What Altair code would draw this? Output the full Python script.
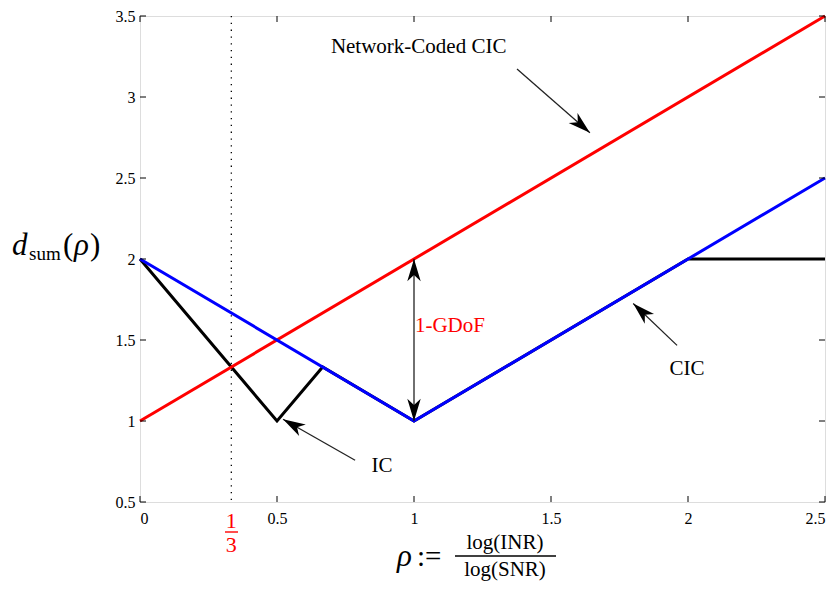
import math
import altair as alt
import pandas as pd

W, H = 685, 486
XMIN, XMAX = 0.0, 2.5
YMIN, YMAX = 0.5, 3.5
FONT = "Liberation Serif"

# ---- data ----
red_x = [0, 2.5]
red_y = [1, 3.5]
blue_x = [0, 1, 2.5]
blue_y = [2, 1, 2.5]
black_x = [0, 0.5, 2 / 3, 1, 2, 2.5]
black_y = [2, 1, 4 / 3, 1, 2, 2]
x_ticks = [0, 0.5, 1, 1.5, 2, 2.5]
y_ticks = [0.5, 1, 1.5, 2, 2.5, 3, 3.5]
marker_x = [1 / 3]

ann_text = ["Network-Coded CIC", "1-GDoF", "IC", "CIC"]
ann_x = [1.017, 1.131, 0.883, 1.996]
ann_y = [3.309, 1.584, 0.721, 1.319]
ann_color = ["black", "red", "black", "black"]

arrow_x1 = [1.376, 1.0, 1.0, 0.785, 1.96]
arrow_y1 = [3.173, 1.5, 1.5, 0.758, 1.467]
arrow_x2 = [1.642, 1.0, 1.0, 0.522, 1.80]
arrow_y2 = [2.779, 2.0, 1.0, 1.011, 1.725]

# ---- tables ----
def line_df(xs, ys):
    return pd.DataFrame({"x": xs, "y": ys})

ann_df = pd.DataFrame({"x": ann_x, "y": ann_y, "t": ann_text, "c": ann_color})
angles = []
for a, b, c, d in zip(arrow_x1, arrow_y1, arrow_x2, arrow_y2):
    dx = (c - a) * W / (XMAX - XMIN)
    dy_down = -(d - b) * H / (YMAX - YMIN)
    angles.append(math.degrees(math.atan2(dx, -dy_down)) % 360)
arrow_df = pd.DataFrame({"x": arrow_x1, "y": arrow_y1, "x2": arrow_x2, "y2": arrow_y2, "ang": angles})
xt_df = pd.DataFrame({"x": x_ticks})
yt_df = pd.DataFrame({"y": y_ticks})
mk_df = pd.DataFrame({"x": marker_x})
one = pd.DataFrame({"a": [0]})

xs = alt.Scale(domain=[XMIN, XMAX], nice=False, zero=False)
ys = alt.Scale(domain=[YMIN, YMAX], nice=False, zero=False)
xaxis = alt.Axis(values=x_ticks, labelExpr="'' + datum.value", tickSize=0, domain=False,
                 grid=False, labelFont=FONT, labelFontSize=16, labelColor="black",
                 labelPadding=8, title=None)
yaxis = alt.Axis(values=y_ticks, labelExpr="'' + datum.value", tickSize=0, domain=False,
                 grid=False, labelFont=FONT, labelFontSize=16, labelColor="black",
                 labelPadding=5, title=None)

def X(f="x"):
    return alt.X(f, type="quantitative", scale=xs, axis=xaxis)

def Y(f="y"):
    return alt.Y(f, type="quantitative", scale=ys, axis=yaxis)

layers = []

# dotted marker line
layers.append(alt.Chart(mk_df).mark_rule(color="black", strokeWidth=1.3, strokeDash=[1.3, 5.5]).encode(
    x=X(), y=alt.value(0), y2=alt.value(H)))

# curves
layers.append(alt.Chart(line_df(black_x, black_y)).mark_line(color="black", strokeWidth=3).encode(x=X(), y=Y()))
layers.append(alt.Chart(line_df(red_x, red_y)).mark_line(color="#ff0000", strokeWidth=3).encode(x=X(), y=Y()))
layers.append(alt.Chart(line_df(blue_x, blue_y)).mark_line(color="#0000ff", strokeWidth=3).encode(x=X(), y=Y()))

# arrows
layers.append(alt.Chart(arrow_df).mark_rule(color="#222222", strokeWidth=1.3).encode(
    x=X(), y=Y(), x2="x2", y2="y2"))
layers.append(alt.Chart(arrow_df).mark_point(
    shape="M0,0 L0.3,1 L0,0.72 L-0.3,1 Z", filled=True, color="black", opacity=1, size=2000,
    strokeWidth=0).encode(x=X("x2"), y=Y("y2"), angle=alt.Angle("ang:Q", scale=None)))

# annotations
layers.append(alt.Chart(ann_df).mark_text(font=FONT, fontSize=21).encode(
    x=X(), y=Y(), text="t:N", color=alt.Color("c:N", scale=None)))

# inward ticks
TL = 6
layers.append(alt.Chart(xt_df).mark_rule(color="black", strokeWidth=1).encode(
    x=X(), y=alt.value(H), y2=alt.value(H - TL)))
layers.append(alt.Chart(xt_df).mark_rule(color="black", strokeWidth=1).encode(
    x=X(), y=alt.value(0), y2=alt.value(TL)))
layers.append(alt.Chart(yt_df).mark_rule(color="black", strokeWidth=1).encode(
    y=Y(), x=alt.value(0), x2=alt.value(TL)))
layers.append(alt.Chart(yt_df).mark_rule(color="black", strokeWidth=1).encode(
    y=Y(), x=alt.value(W), x2=alt.value(W - TL)))

# red 1/3 tick label
layers.append(alt.Chart(mk_df).mark_text(font=FONT, fontSize=22, color="red").encode(
    x=X(), y=alt.value(H + 19), text=alt.value("1")))
layers.append(alt.Chart(mk_df).mark_text(font=FONT, fontSize=22, color="red").encode(
    x=X(), y=alt.value(H + 43), text=alt.value("3")))
layers.append(alt.Chart(one).mark_rule(color="red", strokeWidth=1.4).encode(
    x=alt.value(85), x2=alt.value(98), y=alt.value(H + 30)))

# y label  d_sum(rho)
layers.append(alt.Chart(one).mark_text(font=FONT, fontSize=31, fontStyle="italic", align="left", baseline="alphabetic").encode(
    x=alt.value(-128), y=alt.value(239), text=alt.value("d")))
layers.append(alt.Chart(one).mark_text(font=FONT, fontSize=19, align="left", baseline="alphabetic").encode(
    x=alt.value(-111), y=alt.value(244), text=alt.value("sum")))
layers.append(alt.Chart(one).mark_text(font=FONT, fontSize=31, align="left", baseline="alphabetic").encode(
    x=alt.value(-77), y=alt.value(239), text=alt.value("(")))
layers.append(alt.Chart(one).mark_text(font=FONT, fontSize=31, fontStyle="italic", align="left", baseline="alphabetic").encode(
    x=alt.value(-66), y=alt.value(239), text=alt.value("ρ")))
layers.append(alt.Chart(one).mark_text(font=FONT, fontSize=31, align="left", baseline="alphabetic").encode(
    x=alt.value(-50), y=alt.value(239), text=alt.value(")")))

# x label  rho := log(INR)/log(SNR)
layers.append(alt.Chart(one).mark_text(font=FONT, fontSize=31, fontStyle="italic", align="left", baseline="alphabetic").encode(
    x=alt.value(257), y=alt.value(550), text=alt.value("ρ")))
layers.append(alt.Chart(one).mark_text(font=FONT, fontSize=29, align="left", baseline="alphabetic").encode(
    x=alt.value(277), y=alt.value(550), text=alt.value(":=")))
layers.append(alt.Chart(one).mark_text(font=FONT, fontSize=21).encode(
    x=alt.value(365), y=alt.value(527), text=alt.value("log(INR)")))
layers.append(alt.Chart(one).mark_text(font=FONT, fontSize=21).encode(
    x=alt.value(365), y=alt.value(554), text=alt.value("log(SNR)")))
layers.append(alt.Chart(one).mark_rule(color="black", strokeWidth=1.3).encode(
    x=alt.value(315), x2=alt.value(416), y=alt.value(540)))

chart = alt.layer(*layers).properties(
    width=W, height=H,
    autosize=alt.AutoSizeParams(type="none"),
    padding={"left": 132, "top": 8, "right": 6, "bottom": 80},
).configure_view(stroke="black", strokeWidth=1.3).configure(background="white")

chart.save("out.html", embed_options={"renderer": "svg", "actions": False})
